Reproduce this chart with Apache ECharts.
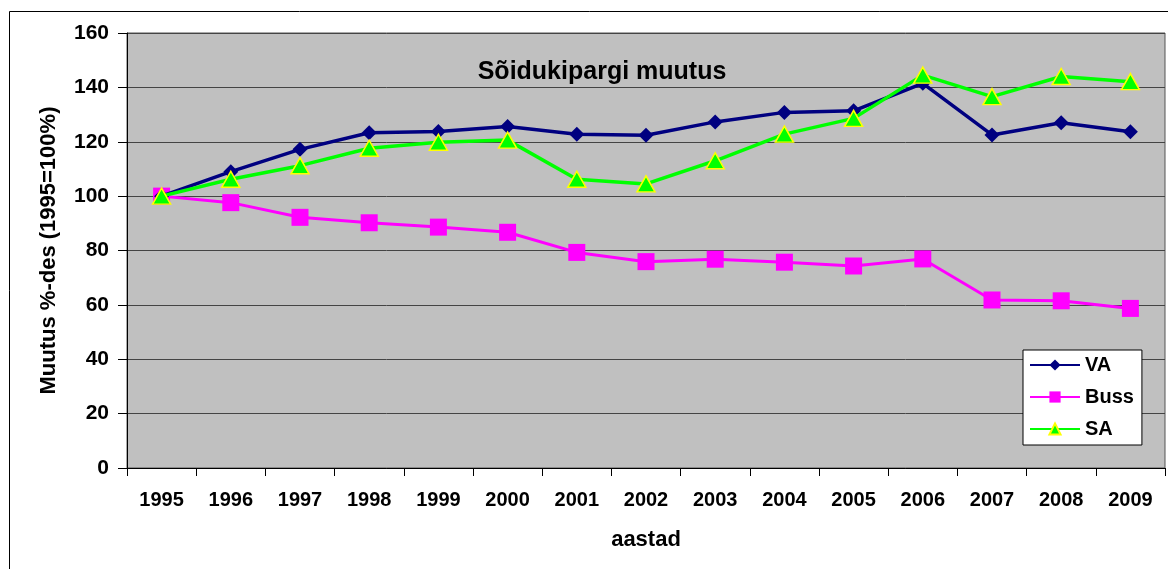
<!DOCTYPE html>
<html>
<head>
<meta charset="utf-8">
<script src="https://cdn.jsdelivr.net/npm/echarts@6/dist/echarts.min.js"></script>
<style>
html,body{margin:0;padding:0;background:#fff;}
#main{width:1168px;height:569px;}
</style>
</head>
<body>
<div id="main"></div>
<script>
var years = ['1995','1996','1997','1998','1999','2000','2001','2002','2003','2004','2005','2006','2007','2008','2009'];
var va = [100,109,117.2,123.3,123.8,125.6,122.8,122.4,127.3,130.8,131.4,141.5,122.5,127,123.7];
var buss = [100,97.6,92.2,90.2,88.6,86.7,79.3,75.9,76.8,75.7,74.3,76.9,61.8,61.5,58.7];
var sa = [100,106.2,111.2,117.6,119.8,120.6,106.2,104.5,113,122.8,128.6,144.5,136.6,144,142.1];

var font = 'Liberation Sans, Arial, sans-serif';
var chart = echarts.init(document.getElementById('main'));
chart.setOption({
    animation: false,
    backgroundColor: '#fff',
    title: {
        text: 'Sõidukipargi muutus',
        left: 597,
        top: 55,
        textAlign: 'center',
        textStyle: {fontFamily: font, fontWeight: 'bold', fontSize: 25, color: '#000'}
    },
    graphic: [{
        type: 'rect',
        shape: {x: 9.5, y: 11.5, width: 1300, height: 700},
        style: {fill: 'none', stroke: '#000', lineWidth: 1},
        silent: true,
        z: -1
    }],
    grid: {
        left: 127, top: 33, right: 3, bottom: 101,
        show: true,
        backgroundColor: '#c0c0c0',
        borderColor: '#555',
        borderWidth: 1
    },
    legend: {
        orient: 'vertical',
        left: 1023, top: 350,
        width: 118,
        padding: [5, 8, 6, 6],
        itemGap: 12,
        itemWidth: 50,
        itemHeight: 14,
        backgroundColor: '#fff',
        borderColor: '#000',
        borderWidth: 1,
        textStyle: {fontFamily: font, fontWeight: 'bold', fontSize: 20, color: '#000'},
        data: ['VA', 'Buss', 'SA']
    },
    xAxis: {
        type: 'category',
        data: years,
        boundaryGap: true,
        name: 'aastad',
        nameLocation: 'middle',
        nameGap: 61,
        nameTextStyle: {fontFamily: font, fontWeight: 'bold', fontSize: 22, color: '#000'},
        axisLine: {lineStyle: {color: '#000', width: 1}},
        axisTick: {show: true, length: 8, lineStyle: {color: '#000'}},
        axisLabel: {margin: 22, fontFamily: font, fontWeight: 'bold', fontSize: 20, color: '#000'},
        splitLine: {show: false}
    },
    yAxis: {
        type: 'value',
        min: 0, max: 160, interval: 20,
        name: 'Muutus %-des (1995=100%)',
        nameLocation: 'middle',
        nameGap: 67,
        nameTextStyle: {fontFamily: font, fontWeight: 'bold', fontSize: 22, color: '#000'},
        axisLine: {show: true, lineStyle: {color: '#000', width: 1}},
        axisTick: {show: true, length: 9, lineStyle: {color: '#000'}},
        axisLabel: {margin: 18, fontFamily: font, fontWeight: 'bold', fontSize: 21, color: '#000'},
        splitLine: {show: true, lineStyle: {color: '#444', width: 1}}
    },
    series: [
        {
            name: 'VA', type: 'line', data: va,
            symbol: 'diamond', symbolSize: 15,
            lineStyle: {color: '#000080', width: 3.5},
            itemStyle: {color: '#000080'},
            z: 3
        },
        {
            name: 'Buss', type: 'line', data: buss,
            symbol: 'rect', symbolSize: 17,
            lineStyle: {color: '#ff00ff', width: 3},
            itemStyle: {color: '#ff00ff'},
            z: 2
        },
        {
            name: 'SA', type: 'line', data: sa,
            symbol: 'triangle', symbolSize: [18, 16],
            lineStyle: {color: '#00ff00', width: 3.5},
            itemStyle: {color: '#00ff00', borderColor: '#ffff00', borderWidth: 1.5},
            z: 4
        }
    ]
});
</script>
</body>
</html>
